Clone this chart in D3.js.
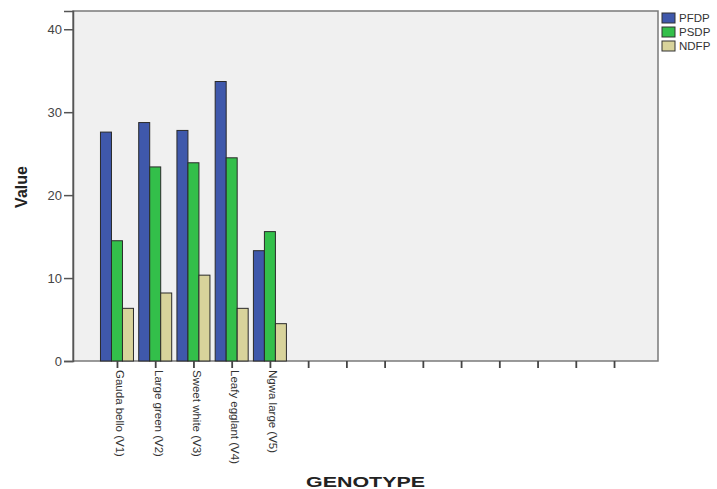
<!doctype html>
<html lang="en">
<head>
<meta charset="UTF-8" />
<title>Genotype bar chart</title>
<style>
  body { margin: 0; background: #fff; font-family: Arial, 'Liberation Sans', sans-serif; }
</style>
<script src="https://d3js.org/d3.v7.min.js"></script>
</head>
<body>
<div id="chart-container"></div>
<script>
var genotypes = ['Gauda bello  (V1)', 'Large green (V2)', 'Sweet white (V3)', 'Leafy egglant (V4)', 'Ngwa large (V5)',
  'e1', 'e2', 'e3', 'e4', 'e5', 'e6', 'e7', 'e8', 'e9'];
var seriesNames = ['PFDP', 'PSDP', 'NDFP'];
var pfdp = [27.6, 28.75, 27.8, 33.7, 13.3];
var psdp = [14.5, 23.4, 23.9, 24.5, 15.6];
var ndfp = [6.35, 8.2, 10.35, 6.35, 4.5];
var seriesColors = ['#3f58ab', '#33bf4a', '#d8d39b'];
var yTicks = [0, 10, 20, 30, 40];

var canvasWidth = 717;
var canvasHeight = 489;
var plot = { left: 73, top: 11, right: 658, bottom: 361 };

var svg = d3.select('#chart-container')
  .append('svg')
  .attr('width', canvasWidth)
  .attr('height', canvasHeight);

var yScale = d3.scaleLinear()
  .domain([0, 42.2])
  .range([plot.bottom, plot.top]);

var xScale = d3.scalePoint()
  .domain(genotypes)
  .range([plot.left, plot.right])
  .padding(1.15);

var barScale = d3.scaleBand()
  .domain(seriesNames)
  .range([-16.5, 16.5]);

// plot background
svg.append('rect')
  .attr('x', plot.left)
  .attr('y', plot.top)
  .attr('width', plot.right - plot.left)
  .attr('height', plot.bottom - plot.top)
  .attr('fill', '#f0f0f0')
  .attr('stroke', '#7a7a7a')
  .attr('stroke-width', 1.5);

// bars
var values = [pfdp, psdp, ndfp];
var rows = [];
seriesNames.forEach(function (s, i) {
  values[i].forEach(function (v, j) {
    rows.push({ series: s, genotype: genotypes[j], value: v, color: seriesColors[i] });
  });
});

svg.append('g')
  .selectAll('rect')
  .data(rows)
  .enter()
  .append('rect')
  .attr('x', function (d) { return xScale(d.genotype) + barScale(d.series); })
  .attr('y', function (d) { return yScale(d.value); })
  .attr('width', barScale.bandwidth())
  .attr('height', function (d) { return yScale(0) - yScale(d.value); })
  .attr('fill', function (d) { return d.color; })
  .attr('stroke', '#2a2a2a')
  .attr('stroke-width', 1);

// y axis
var yAxis = svg.append('g')
  .attr('transform', 'translate(' + plot.left + ',0)')
  .call(d3.axisLeft(yScale).tickValues(yTicks).tickSize(9).tickPadding(2));
yAxis.select('.domain').attr('stroke', '#555').attr('stroke-width', 1.5);
yAxis.selectAll('.tick line').attr('stroke', '#555').attr('stroke-width', 1.5);
yAxis.selectAll('text')
  .attr('font-size', '13px')
  .attr('font-family', 'Arial, sans-serif')
  .attr('fill', '#444');

// x axis
var xAxis = svg.append('g')
  .attr('transform', 'translate(0,' + plot.bottom + ')')
  .call(d3.axisBottom(xScale).tickSize(7).tickFormat(function (d) {
    return d.charAt(0) === 'e' && d.length < 3 ? '' : d;
  }));
xAxis.select('.domain').remove();
xAxis.selectAll('.tick line').attr('stroke', '#444').attr('stroke-width', 1.8);
xAxis.selectAll('text')
  .attr('transform', 'rotate(90)')
  .attr('x', 9)
  .attr('y', -3)
  .attr('dy', '0.35em')
  .attr('text-anchor', 'start')
  .attr('font-size', '11.5px')
  .attr('font-family', 'Arial, sans-serif')
  .attr('fill', '#333');

// axis titles
svg.append('text')
  .attr('transform', 'translate(27,187) rotate(-90)')
  .attr('text-anchor', 'middle')
  .attr('font-size', '16px')
  .attr('font-weight', 'bold')
  .attr('fill', '#222')
  .text('Value');

svg.append('text')
  .attr('x', 306)
  .attr('y', 487)
  .attr('textLength', 119)
  .attr('lengthAdjust', 'spacingAndGlyphs')
  .attr('font-size', '15px')
  .attr('font-weight', 'bold')
  .attr('fill', '#222')
  .text('GENOTYPE');

// legend
var legend = svg.append('g')
  .selectAll('g')
  .data(seriesNames)
  .enter()
  .append('g')
  .attr('transform', function (d, i) { return 'translate(662,' + (13 + i * 14) + ')'; });

legend.append('rect')
  .attr('width', 13)
  .attr('height', 10)
  .attr('fill', function (d, i) { return seriesColors[i]; })
  .attr('stroke', '#333')
  .attr('stroke-width', 1);

legend.append('text')
  .attr('x', 17)
  .attr('y', 9)
  .attr('font-size', '11.5px')
  .attr('fill', '#333')
  .text(function (d) { return d; });
</script>
</body>
</html>
